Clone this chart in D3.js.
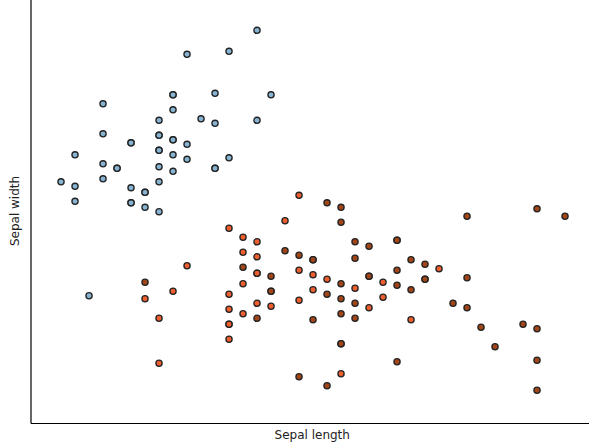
<!DOCTYPE html>
<html>
<head>
<meta charset="utf-8">
<script src="https://cdn.jsdelivr.net/npm/d3@7"></script>
<style>
  body { margin: 0; background: #fff; }
  svg { display: block; }
  .label { font-family: "DejaVu Sans", sans-serif; font-size: 12px; fill: #222; }
</style>
</head>
<body>
<div id="chart"></div>
<script>
// iris-like points: [sepal length, sepal width]
const setosa = [
  [4.6, 3.91], [4.6, 3.71], [4.8, 3.65], [4.8, 3.65], [5.0, 3.80], [5.0, 3.70], [5.0, 3.70],
  [5.0, 3.60], [5.0, 3.60], [5.0, 3.49], [5.0, 3.39], [5.0, 3.19], [4.4, 3.57], [4.6, 3.51],
  [4.7, 3.48], [4.7, 3.48], [4.6, 3.41], [4.3, 3.39], [4.4, 3.36], [4.8, 3.35], [4.9, 3.32],
  [4.9, 3.32], [4.4, 3.26], [4.8, 3.25], [4.8, 3.25], [4.9, 3.22], [5.7, 4.40], [5.2, 4.24],
  [5.5, 4.26], [5.1, 3.97], [5.1, 3.97], [5.4, 3.98], [5.8, 3.97], [5.1, 3.87], [5.3, 3.81],
  [5.4, 3.78], [5.7, 3.80], [5.1, 3.67], [5.1, 3.67], [5.2, 3.64], [5.1, 3.57], [5.2, 3.54],
  [5.5, 3.55], [5.1, 3.46], [5.4, 3.48], [5.4, 3.48], [4.5, 2.63]
];
const versicolor = [
  [5.5, 3.08], [5.6, 3.02], [5.7, 2.99], [5.6, 2.92], [5.7, 2.89], [5.2, 2.83], [5.7, 2.78],
  [5.7, 2.78], [5.6, 2.71], [4.9, 2.61], [5.1, 2.66], [5.5, 2.64], [5.7, 2.58], [5.5, 2.54],
  [5.6, 2.51], [5.0, 2.48], [5.5, 2.44], [5.5, 2.44], [5.5, 2.34], [5.0, 2.18], [6.0, 3.30],
  [5.9, 3.13], [6.0, 2.80], [6.1, 2.77], [6.2, 2.74], [6.4, 2.68], [6.1, 2.67], [6.5, 2.55],
  [5.8, 2.56], [6.0, 2.60], [6.3, 2.11], [7.0, 2.81], [6.6, 2.72], [6.6, 2.62], [6.8, 2.47]
];
const virginica = [
  [5.6, 2.82], [4.9, 2.72], [5.7, 2.48], [6.2, 3.25], [6.3, 3.22], [6.3, 3.12], [6.4, 2.99],
  [6.5, 2.96], [5.9, 2.93], [6.0, 2.90], [6.1, 2.87], [6.1, 2.87], [6.4, 2.88], [5.8, 2.76],
  [6.3, 2.71], [6.5, 2.76], [6.5, 2.76], [5.8, 2.66], [5.8, 2.66], [6.2, 2.64], [6.3, 2.61],
  [6.4, 2.58], [6.3, 2.51], [6.4, 2.48], [6.1, 2.47], [6.3, 2.31], [6.3, 2.31], [6.0, 2.09],
  [6.2, 2.03], [7.2, 3.16], [6.7, 3.00], [6.7, 3.00], [6.8, 2.87], [6.9, 2.84], [6.7, 2.80],
  [6.9, 2.74], [6.9, 2.74], [7.2, 2.75], [6.7, 2.70], [6.8, 2.67], [7.1, 2.58], [7.2, 2.55],
  [7.3, 2.42], [6.7, 2.19], [7.7, 3.21], [7.9, 3.16], [7.6, 2.44], [7.7, 2.41], [7.4, 2.29],
  [7.7, 2.20], [7.7, 2.00]
];
const groups = ['setosa', 'versicolor', 'virginica'];
const groupColors = ['#86b4d2', '#ee5f30', '#a2461a'];

const width = 589, height = 448;
const margin = { top: -1, right: -5, bottom: 25, left: 30.5 };
const innerW = width - margin.left - margin.right;
const innerH = height - margin.top - margin.bottom;

const svg = d3.select('#chart').append('svg')
  .attr('width', width)
  .attr('height', height);

const xScale = d3.scaleLinear().domain([4.082, 8.107]).range([0, innerW]);
const yScale = d3.scaleLinear().domain([1.782, 4.609]).range([innerH, 0]);
const colorScale = d3.scaleOrdinal().domain(groups).range(groupColors);

const chart = svg.append('g')
  .attr('transform', `translate(${margin.left}, ${margin.top})`);

const points = [
  ...setosa.map(d => ({ x: d[0], y: d[1], g: 'setosa' })),
  ...versicolor.map(d => ({ x: d[0], y: d[1], g: 'versicolor' })),
  ...virginica.map(d => ({ x: d[0], y: d[1], g: 'virginica' }))
];

chart.selectAll('.dot')
  .data(points)
  .enter()
  .append('circle')
  .attr('class', 'dot')
  .attr('cx', d => xScale(d.x))
  .attr('cy', d => yScale(d.y))
  .attr('r', 3.1)
  .style('fill', d => colorScale(d.g))
  .style('stroke', '#222')
  .style('stroke-width', 1.3);

// axes without ticks (frame only)
chart.append('g')
  .attr('transform', `translate(0, ${innerH})`)
  .call(d3.axisBottom(xScale).tickValues([]).tickSizeOuter(0))
  .select('.domain').attr('stroke', '#000').attr('stroke-width', 1.2);
chart.append('g')
  .call(d3.axisLeft(yScale).tickValues([]).tickSizeOuter(0))
  .select('.domain').attr('stroke', '#000').attr('stroke-width', 1.2);

svg.append('text')
  .attr('class', 'label')
  .attr('x', margin.left + innerW / 2)
  .attr('y', margin.top + innerH + 16)
  .attr('text-anchor', 'middle')
  .text('Sepal length');

svg.append('text')
  .attr('class', 'label')
  .attr('transform', `translate(19, ${margin.top + innerH / 2}) rotate(-90)`)
  .attr('text-anchor', 'middle')
  .text('Sepal width');
</script>
</body>
</html>
